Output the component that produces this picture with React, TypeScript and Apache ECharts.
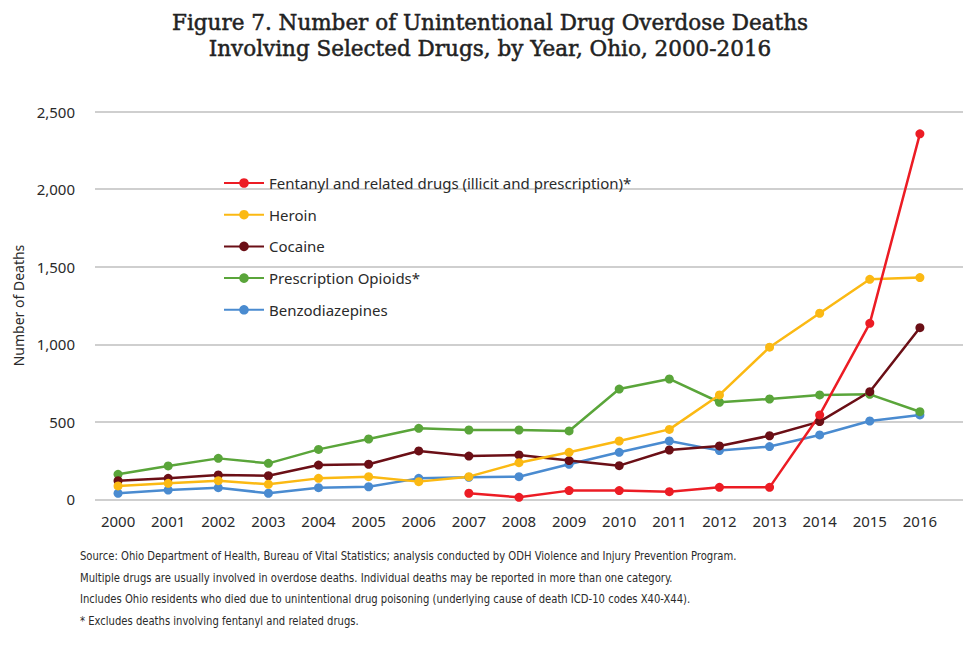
import React, { useEffect, useRef } from "react";
import * as echarts from "echarts";

const years = [2000, 2001, 2002, 2003, 2004, 2005, 2006, 2007, 2008, 2009, 2010, 2011, 2012, 2013, 2014, 2015, 2016];
const fentanylYears = [2007, 2008, 2009, 2010, 2011, 2012, 2013, 2014, 2015, 2016];
const fentanyl = [39, 13, 56, 56, 49, 77, 77, 544, 1135, 2357];
const heroin = [86, 103, 120, 97, 135, 146, 114, 146, 236, 303, 376, 451, 673, 981, 1200, 1419, 1430];
const cocaine = [120, 135, 157, 152, 221, 226, 312, 279, 286, 250, 217, 318, 344, 410, 501, 694, 1107];
const opioids = [161, 215, 264, 232, 322, 389, 458, 447, 447, 441, 711, 776, 626, 647, 673, 677, 565];
const benzos = [39, 60, 75, 39, 75, 81, 135, 142, 146, 226, 303, 376, 314, 340, 415, 505, 544];
const yTicks = [0, 500, 1000, 1500, 2000, 2500];

const titleLines = [
  "Figure 7. Number of Unintentional Drug Overdose Deaths",
  "Involving Selected Drugs, by Year, Ohio, 2000-2016",
];
const notes = [
  "Source: Ohio Department of Health, Bureau of Vital Statistics; analysis conducted by ODH Violence and Injury Prevention Program.",
  "Multiple drugs are usually involved in overdose deaths. Individual deaths may be reported in more than one category.",
  "Includes Ohio residents who died due to unintentional drug poisoning (underlying cause of death ICD-10 codes X40-X44).",
  "* Excludes deaths involving fentanyl and related drugs.",
];

const pairs = (xs: number[], vs: number[]) => xs.map((x, i) => [x, vs[i]]);

export default function App() {
  const ref = useRef<HTMLDivElement>(null);
  useEffect(() => {
    if (!ref.current) return;
    const chart = echarts.init(ref.current, undefined, { renderer: "svg" });
    const sans = "'Noto Sans', 'Open Sans', sans-serif";
    const mk = (name: string, color: string, data: number[][]) => ({
      name,
      type: "line",
      data,
      symbol: "circle",
      symbolSize: 9,
      showSymbol: true,
      lineStyle: { width: 2.5, color },
      itemStyle: { color },
      z: 2,
    });
    chart.setOption({
      animation: false,
      backgroundColor: "#ffffff",
      graphic: [
        ...titleLines.map((t, i) => ({
          type: "text",
          left: "center",
          top: 11 + i * 26,
          style: {
            text: t,
            font: "21.5px 'DejaVu Serif', serif",
            fill: "#222",
            stroke: "#222",
            lineWidth: 0.5,
          },
        })),
        ...notes.map((t, i) => ({
          type: "text",
          x: 80,
          y: 550 + i * 21.5,
          scaleX: 0.93,
          style: { text: t, font: "12px 'Liberation Sans Narrow', 'DejaVu Sans Condensed', sans-serif", fill: "#2a2a2a" },
        })),
      ],
      legend: {
        orient: "vertical",
        left: 218,
        top: 170,
        itemWidth: 40,
        itemHeight: 12,
        itemGap: 15.7,
        textStyle: { fontFamily: sans, fontSize: 15, color: "#2a2a2a", lineHeight: 16 },
        data: [
          "Fentanyl and related drugs (illicit and prescription)*",
          "Heroin",
          "Cocaine",
          "Prescription Opioids*",
          "Benzodiazepines",
        ],
      },
      grid: { left: 95, right: 17, top: 111.7, bottom: 145.7, containLabel: false },
      xAxis: {
        type: "value",
        min: 1999.54,
        max: 2016.86,
        axisLine: { show: false },
        axisTick: { show: false },
        splitLine: { show: false },
        axisLabel: {
          customValues: years,
          formatter: (v: number) => String(Math.round(v)),
          fontFamily: sans,
          fontSize: 15,
          color: "#2a2a2a",
          margin: 14,
        },
      },
      yAxis: {
        type: "value",
        min: 0,
        max: 2500,
        interval: 500,
        name: "Number of Deaths",
        nameLocation: "middle",
        nameRotate: 90,
        nameGap: 68,
        nameTextStyle: { fontFamily: sans, fontSize: 14, color: "#2a2a2a" },
        axisLine: { show: false },
        axisTick: { show: false },
        splitLine: { lineStyle: { color: "#cfcfcf", width: 2 } },
        axisLabel: {
          fontFamily: sans,
          fontSize: 15,
          color: "#2a2a2a",
          margin: 20,
          formatter: (v: number) => (yTicks.includes(v) ? v.toLocaleString("en-US") : ""),
        },
      },
      series: [
        mk("Benzodiazepines", "#4a8bd0", pairs(years, benzos)),
        mk("Prescription Opioids*", "#5aa53a", pairs(years, opioids)),
        mk("Cocaine", "#6b0f16", pairs(years, cocaine)),
        mk("Heroin", "#fbb913", pairs(years, heroin)),
        mk("Fentanyl and related drugs (illicit and prescription)*", "#ec1c24", pairs(fentanylYears, fentanyl)),
      ],
    });
    return () => chart.dispose();
  }, []);
  return <div ref={ref} style={{ position: "fixed", left: 0, top: 0, width: 980, height: 645 }} />;
}
